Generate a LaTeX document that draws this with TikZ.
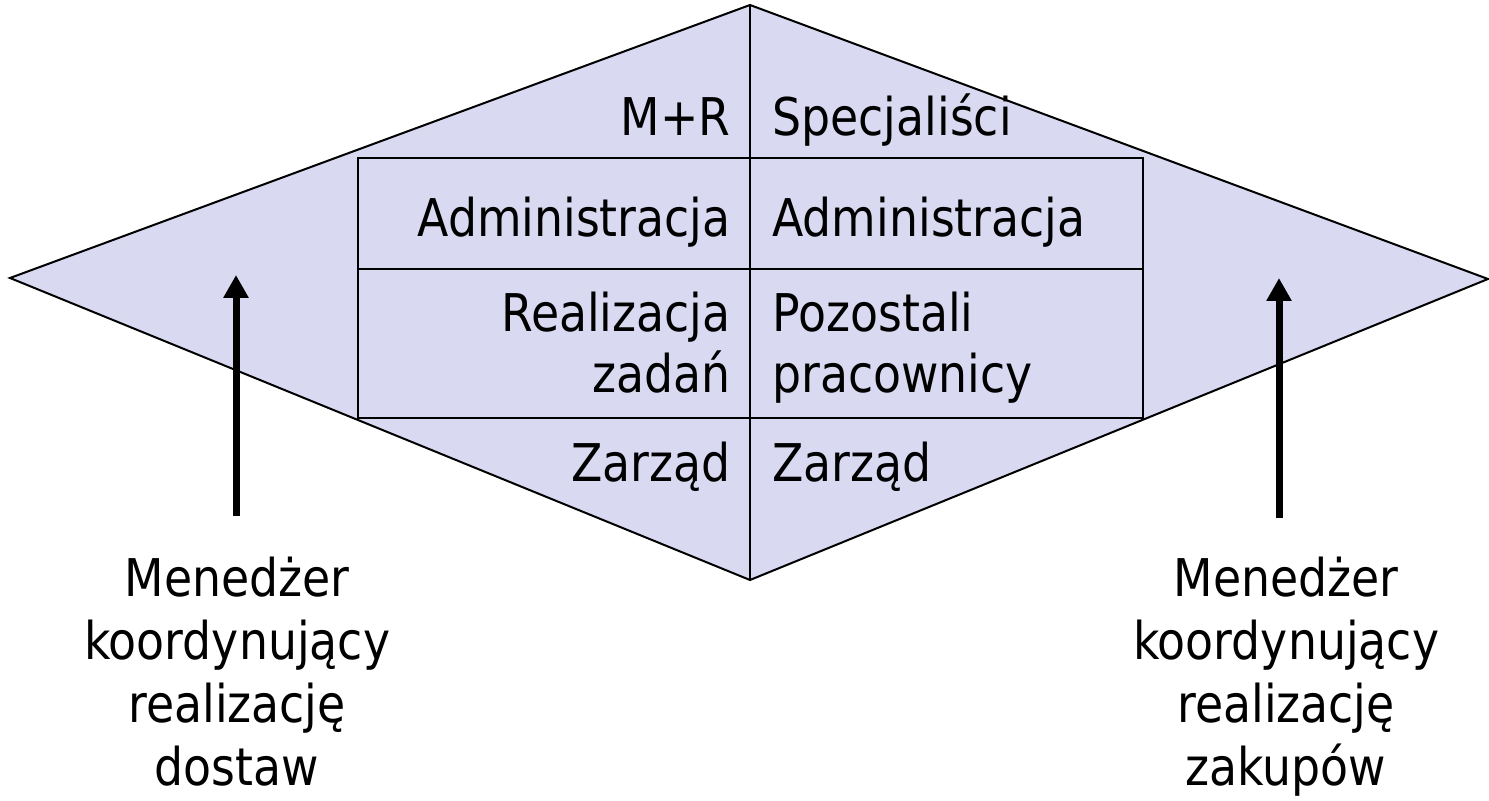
\documentclass[tikz,border=0pt]{standalone}
\usepackage{fontspec}
\setmainfont[FakeStretch=0.88]{DejaVu Sans}
\usetikzlibrary{arrows.meta}
\definecolor{lav}{RGB}{217,217,242}
\begin{document}
\begin{tikzpicture}[x=0.5pt,y=-0.5pt,
  txt/.style={inner sep=0pt, font=\fontsize{26}{30.5}\selectfont},
  rlbl/.style={txt, anchor=base east, align=right},
  llbl/.style={txt, anchor=base west, align=left},
  mgr/.style={txt, anchor=base, align=center, font=\fontsize{26}{31.5}\selectfont},
  edge/.style={line width=1pt, line join=miter},
  grid/.style={line width=1.4pt},
  up/.style={line width=3.5pt, -{Triangle[width=12pt,length=11.5pt]}}]
\useasboundingbox (0,0) rectangle (1489,801);

% diamond corners
\coordinate (W) at (10,278);
\coordinate (N) at (750,5);
\coordinate (E) at (1488,279);
\coordinate (S) at (750,580);

\fill[lav] (W) -- (N) -- (E) -- (S) -- cycle;
\draw[edge] (W) -- (N) -- (E) -- (S) -- cycle;

% inner boxes and the centre axis
\draw[grid] (358,158) rectangle (1143,269);
\draw[grid] (358,269) rectangle (1143,418);
\draw[grid] (N) -- (S);

% left column (anchors sit on the last line's baseline)
\node[rlbl] (mr)   at (731,136) {M+R};
\node[rlbl] (adl)  at (731,237) {Administracja};
\node[rlbl] (real) at (731,393) {Realizacja\\zadań};
\node[rlbl] (zl)   at (731,482) {Zarząd};

% right column
\node[llbl] (spec) at (772,136) {Specjaliści};
\node[llbl] (adr)  at (772,237) {Administracja};
\node[llbl] (poz)  at (772,393) {Pozostali\\pracownicy};
\node[llbl] (zr)   at (772,482) {Zarząd};

% managers below
\node[mgr] (mgrL) at (237,785) {Menedżer\\koordynujący\\realizację\\dostaw};
\node[mgr] (mgrR) at (1286,785) {Menedżer\\koordynujący\\realizację\\zakupów};

\coordinate (aLs) at (236,516);
\coordinate (aLe) at (236,275);
\coordinate (aRs) at (1279,518);
\coordinate (aRe) at (1279,278);
\draw[up] (aLs) -- (aLe);
\draw[up] (aRs) -- (aRe);
\end{tikzpicture}
\end{document}
